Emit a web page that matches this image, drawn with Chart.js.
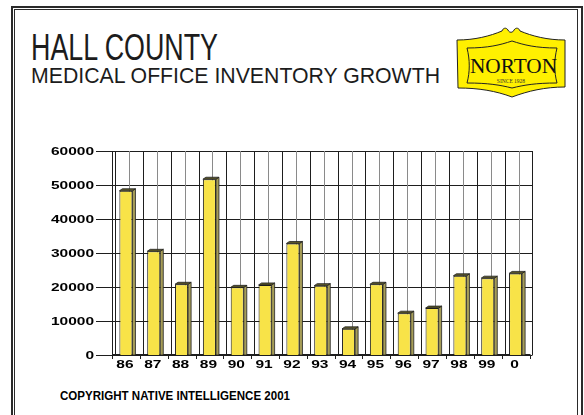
<!DOCTYPE html>
<html>
<head>
<meta charset="utf-8">
<script src="https://cdn.jsdelivr.net/npm/chart.js@4.4.0/dist/chart.umd.min.js"></script>
<style>
  html, body { margin: 0; padding: 0; background: #fff; }
  #page { position: relative; width: 584px; height: 415px; overflow: hidden; background: #fff;
          font-family: "Liberation Sans", Arial, sans-serif; }
  .frame-outer { position: absolute; left: 11px; top: 6px; width: 568px; height: 430px; border: 2px solid #2a2a2a; }
  .frame-inner { position: absolute; left: 14px; top: 9px; width: 562px; height: 430px; border: 1px solid #2a2a2a; }
  .txt { position: absolute; white-space: nowrap; transform-origin: 0 0; color: #1c1c1c; line-height: 1; }
  #title { left: 31px; top: 30px; font-size: 36px; }
  #subtitle { left: 31px; top: 65px; font-size: 22px; }
  #copyright { left: 60px; top: 390px; font-size: 12px; font-weight: bold; color: #000; }
  #logo { position: absolute; left: 450px; top: 25px; }
  #chart { position: absolute; left: 0; top: 0; }
</style>
</head>
<body>
<div id="page">
  <div class="frame-outer"></div>
  <div class="frame-inner"></div>
  <div class="txt" id="title" data-w="187">HALL COUNTY</div>
  <div class="txt" id="subtitle" data-w="409">MEDICAL OFFICE INVENTORY GROWTH</div>
  <div class="txt" id="copyright" data-w="230">COPYRIGHT NATIVE INTELLIGENCE 2001</div>
  <svg id="logo" width="125" height="80" viewBox="0 0 125 80">
    <path d="M7,15 C25,15 40,11 52,6 C53,3 56,2 58,5 C59,8 63,8 64,5 C66,2 69,3 70,6 C82,11 97,15 115,15
             L115,62 C95,62 78,66 62,72 C46,66 29,63 8,63 Z"
          fill="#fff000" stroke="#222" stroke-width="1"/>
    <path d="M17,23 C38,23 50,20 62,16 C74,20 86,23 107,23 C104,35 104,47 107,58
             C86,58 74,60 62,63 C50,60 38,58 17,58 C20,47 20,35 17,23 Z"
          fill="none" stroke="#222" stroke-width="1"/>
    <text x="63.5" y="48" text-anchor="middle" textLength="87" lengthAdjust="spacingAndGlyphs"
          font-family="Liberation Serif, Times New Roman, serif" font-size="21" fill="#111">NORTON</text>
    <text x="61" y="58" text-anchor="middle" font-family="Liberation Serif, serif" font-size="5.5" fill="#333">SINCE 1928</text>
  </svg>
  <canvas id="chart" width="584" height="415"></canvas>
</div>
<script>
// fit the heading texts to their printed widths
document.querySelectorAll(".txt[data-w]").forEach(el => {
  const w = el.getBoundingClientRect().width;
  el.style.transform = "scaleX(" + (Number(el.dataset.w) / w) + ")";
});

const years = ["86", "87", "88", "89", "90", "91", "92", "93", "94", "95", "96", "97", "98", "99", "0"];
const inventory = [48300, 30500, 20800, 51700, 19900, 20600, 32800, 20400, 7700, 20800, 12300, 13800, 23300, 22600, 24000];
const yTicks = [0, 10000, 20000, 30000, 40000, 50000, 60000];

const DEPTH = 3;
const LABEL_FONT = 'bold 10px "Liberation Sans", Arial, sans-serif';
const WIDE = 1.55;

function line(ctx, x1, y1, x2, y2) {
  ctx.beginPath();
  ctx.moveTo(x1, y1);
  ctx.lineTo(x2, y2);
  ctx.stroke();
}

// back wall, grid and axes in the old 3D style
const wallPlugin = {
  id: "wall3d",
  beforeDatasetsDraw(chart) {
    const { ctx, chartArea: a, scales: { x, y } } = chart;
    const step = x.getPixelForValue(1) - x.getPixelForValue(0);
    ctx.save();
    ctx.lineWidth = 1;

    // value grid lines + tick marks on the left
    ctx.strokeStyle = "#1e1e1e";
    yTicks.forEach(v => {
      const py = Math.round(y.getPixelForValue(v)) + 0.5;
      line(ctx, a.left, py, a.right + DEPTH, py);
      line(ctx, a.left - 16, py, a.left, py);
    });

    // category lines on the back wall
    years.forEach((_, i) => {
      const cx = x.getPixelForValue(i);
      ctx.strokeStyle = "#8a8a8a";
      const gx = Math.round(cx + DEPTH) + 0.5;
      line(ctx, gx, a.top, gx, a.bottom);
      ctx.strokeStyle = "#1e1e1e";
      const bx = Math.round(cx - step / 2 + DEPTH) + 0.5;
      line(ctx, bx, a.top, bx, a.bottom);
    });
    const lastX = Math.round(x.getPixelForValue(years.length - 1) + step / 2 + DEPTH) + 0.5;
    line(ctx, lastX, a.top, lastX, a.bottom);

    // front edge of the left wall
    const fx = Math.round(a.left) + 0.5;
    line(ctx, fx, a.top, fx, a.bottom);

    // floor
    ctx.lineWidth = 2;
    line(ctx, a.left, a.bottom, a.right + 1, a.bottom);
    ctx.lineWidth = 1;
    for (let i = 0; i <= years.length; i++) {
      const tx = Math.round(x.getPixelForValue(i) - step / 2) + 0.5;
      line(ctx, tx, a.bottom, tx, a.bottom + 4);
    }
    ctx.restore();
  },
  afterDatasetsDraw(chart) {
    const { ctx } = chart;
    const meta = chart.getDatasetMeta(0);
    ctx.save();
    ctx.lineWidth = 0.8;
    ctx.strokeStyle = "#222";
    meta.data.forEach(bar => {
      const l = bar.x - bar.width / 2;
      const r = bar.x + bar.width / 2;
      const top = bar.y;
      const base = bar.base;
      // side face
      ctx.beginPath();
      ctx.moveTo(r, top);
      ctx.lineTo(r + DEPTH, top - 2);
      ctx.lineTo(r + DEPTH, base);
      ctx.lineTo(r, base);
      ctx.closePath();
      ctx.fillStyle = "#a69d58";
      ctx.fill();
      ctx.stroke();
      // top face
      ctx.beginPath();
      ctx.moveTo(l, top);
      ctx.lineTo(l + DEPTH, top - 2);
      ctx.lineTo(r + DEPTH, top - 2);
      ctx.lineTo(r, top);
      ctx.closePath();
      ctx.fillStyle = "#5c5828";
      ctx.fill();
      ctx.stroke();
    });
    ctx.restore();
  },
  afterDraw(chart) {
    const { ctx, chartArea: a, scales: { x, y } } = chart;
    ctx.save();
    ctx.font = LABEL_FONT;
    ctx.fillStyle = "#000";
    ctx.textBaseline = "alphabetic";

    ctx.textAlign = "right";
    yTicks.forEach(v => {
      ctx.save();
      ctx.translate(a.left - 18, y.getPixelForValue(v) + 3.5);
      ctx.scale(WIDE, 1);
      ctx.fillText(String(v), 0, 0);
      ctx.restore();
    });

    ctx.textAlign = "center";
    years.forEach((label, i) => {
      ctx.save();
      ctx.translate(x.getPixelForValue(i) - 1, a.bottom + 13);
      ctx.scale(WIDE, 1);
      ctx.fillText(label, 0, 0);
      ctx.restore();
    });
    ctx.restore();
  }
};

new Chart(document.getElementById("chart"), {
  type: "bar",
  data: {
    labels: years,
    datasets: [{
      data: inventory,
      backgroundColor: "#f8e348",
      borderColor: "#1a1a1a",
      borderWidth: 1,
      barPercentage: 0.47,
      categoryPercentage: 1
    }]
  },
  options: {
    responsive: false,
    animation: false,
    devicePixelRatio: 1,
    layout: { padding: { left: 112, right: 54.5, top: 151, bottom: 60 } },
    plugins: { legend: { display: false }, tooltip: { enabled: false } },
    scales: {
      x: { display: false, offset: true },
      y: { display: false, min: 0, max: 60000 }
    }
  },
  plugins: [wallPlugin]
});
</script>
</body>
</html>
